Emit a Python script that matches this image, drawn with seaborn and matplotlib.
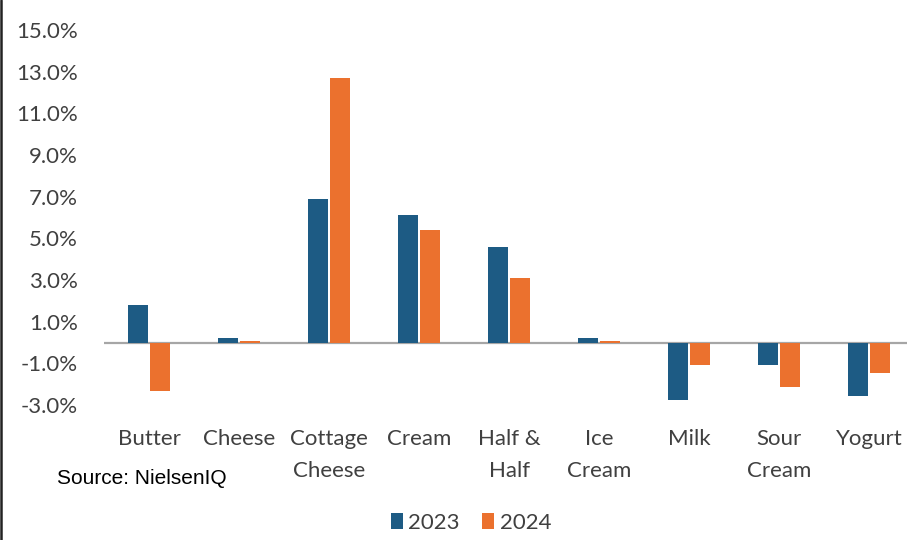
import matplotlib
matplotlib.use("Agg")
import matplotlib.pyplot as plt
from matplotlib.lines import Line2D
from matplotlib.ticker import FuncFormatter
import seaborn as sns
import pandas as pd

categories = ["Butter", "Cheese", "Cottage\nCheese", "Cream", "Half &\nHalf",
              "Ice\nCream", "Milk", "Sour\nCream", "Yogurt"]
values_2023 = [1.8, 0.2, 6.9, 6.1, 4.6, 0.2, -2.75, -1.1, -2.55]
values_2024 = [-2.35, 0.08, 12.72, 5.4, 3.1, 0.08, -1.1, -2.12, -1.45]
years = ["2023", "2024"]
y_ticks = [-3, -1, 1, 3, 5, 7, 9, 11, 13, 15]
source_text = "Source: NielsenIQ"

df = pd.DataFrame({
    "category": categories * 2,
    "value": values_2023 + values_2024,
    "year": [years[0]] * len(categories) + [years[1]] * len(categories),
})

sns.set_theme(style="white")
plt.rcParams["font.family"] = ["Lato", "DejaVu Sans"]

W, H = 907, 540
fig = plt.figure(figsize=(W / 100, H / 100), dpi=100)
ax = fig.add_axes([104 / W, 135 / H, 810 / W, 375 / H])

blue = "#1D5B84"
orange = "#EB712E"
text_gray = "#404040"

sns.barplot(data=df, x="category", y="value", hue="year", order=categories,
            hue_order=years, palette=[blue, orange], saturation=1,
            width=0.51, gap=0.13, linewidth=0, edgecolor="none", ax=ax)

ax.set_ylim(-3, 15)
ax.set_xlim(-0.5, len(categories) - 0.5)
ax.set_yticks(y_ticks)
ax.yaxis.set_major_formatter(FuncFormatter(lambda v, p: f"{v:.1f}%"))
ax.axhline(0, color="#a6a6a6", lw=1.6, zorder=0.5)
for s in ax.spines.values():
    s.set_visible(False)
ax.tick_params(axis="y", length=0, pad=19, labelsize=16, labelcolor=text_gray)
ax.tick_params(axis="x", length=0, pad=17.5, labelsize=16, labelcolor=text_gray)
for lbl in ax.get_xticklabels():
    lbl.set_linespacing(1.72)
ax.set_xlabel("")
ax.set_ylabel("")
ax.grid(False)

handles, labels = ax.get_legend_handles_labels()
if ax.legend_ is not None:
    ax.legend_.remove()
fig.legend(handles, labels, loc="center", bbox_to_anchor=(471 / W, 1 - 523 / H),
           ncol=2, frameon=False, fontsize=16, labelcolor=text_gray,
           handlelength=0.55, handleheight=0.7, handletextpad=0.25,
           columnspacing=1.0)

fig.text(57 / W, 1 - 478 / H, source_text, fontsize=15, family="Liberation Sans",
         va="center", ha="left", color="black")

fig.add_artist(Line2D([0.0012, 0.0012], [0, 1], transform=fig.transFigure,
                      color="#222222", lw=1.8))

fig.savefig("out.png", dpi=100)
